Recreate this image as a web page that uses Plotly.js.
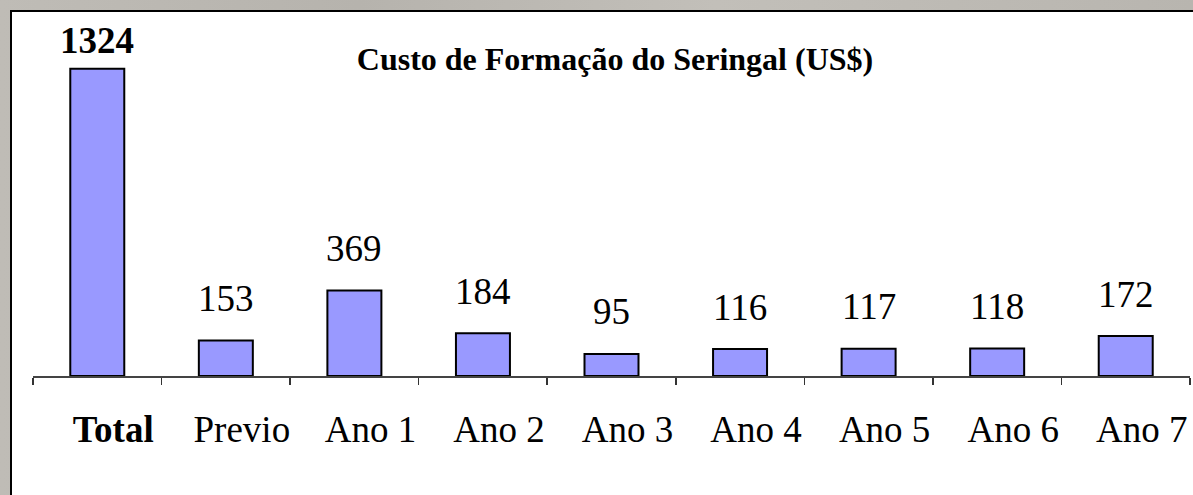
<!DOCTYPE html>
<html>
<head>
<meta charset="utf-8">
<script src="https://cdn.plot.ly/plotly-3.0.1.min.js"></script>
<style>
  html, body { margin: 0; padding: 0; width: 1193px; height: 495px; overflow: hidden;
    background: linear-gradient(90deg, #bfbcb6 0%, #b6b3ad 30%, #c2bfb9 60%, #b8b5af 100%); }
  #wrap { position: absolute; left: 10px; top: 10px; width: 1183px; height: 485px;
    border-left: 2px solid #000; border-top: 2px solid #000; background: #fff; box-sizing: border-box; }
  #chart { width: 1181px; height: 483px; }
</style>
</head>
<body>
<div id="wrap"><div id="chart"></div></div>
<script>
const categories = ["Total", "Previo", "Ano 1", "Ano 2", "Ano 3", "Ano 4", "Ano 5", "Ano 6", "Ano 7"];
const tickLabels = ["<b>Total</b>", "Previo", "Ano 1", "Ano 2", "Ano 3", "Ano 4", "Ano 5", "Ano 6", "Ano 7"];
const values = [1324, 153, 369, 184, 95, 116, 117, 118, 172];
const valueLabels = ["<b>1324</b>", "153", "369", "184", "95", "116", "117", "118", "172"];
const chartTitle = "<b>Custo de Formação do Seringal (US$)</b>";

const serif = "Liberation Serif, Times New Roman, serif";

const trace = {
  type: "bar",
  x: categories,
  y: values,
  width: 0.42,
  marker: { color: "#9999ff", line: { color: "#000000", width: 2 } },
  hoverinfo: "none"
};

const annotations = categories.map((c, i) => ({
  x: c, y: values[i], xref: "x", yref: "y",
  text: valueLabels[i], showarrow: false,
  xanchor: "center", yanchor: "middle",
  yshift: i === 0 ? 28 : 42,
  font: { family: serif, size: 37, color: "#000" }
}));

const layout = {
  width: 1181, height: 483,
  margin: { l: 21, r: 3, t: 28, b: 119 },
  paper_bgcolor: "#ffffff",
  plot_bgcolor: "#ffffff",
  showlegend: false,
  title: {
    text: chartTitle,
    font: { family: serif, size: 32, color: "#000" },
    x: 603 / 1181, xref: "container", xanchor: "center",
    y: 1 - 47 / 483, yref: "container", yanchor: "middle"
  },
  xaxis: {
    type: "category",
    range: [-0.5, 8.5],
    tickmode: "array",
    tickvals: categories,
    ticktext: tickLabels,
    tickson: "boundaries",
    ticks: "outside", ticklen: 7, tickwidth: 1.5, tickcolor: "#333",
    showline: true, linecolor: "#444", linewidth: 1.5,
    showgrid: false, zeroline: false,
    ticklabelshift: 16,
    ticklabelstandoff: 20,
    tickfont: { family: serif, size: 37, color: "#000" },
    fixedrange: true
  },
  yaxis: {
    range: [0, 1448],
    visible: false,
    showgrid: false, zeroline: false,
    fixedrange: true
  },
  annotations: annotations
};

Plotly.newPlot("chart", [trace], layout, { displayModeBar: false, staticPlot: true });
</script>
</body>
</html>
